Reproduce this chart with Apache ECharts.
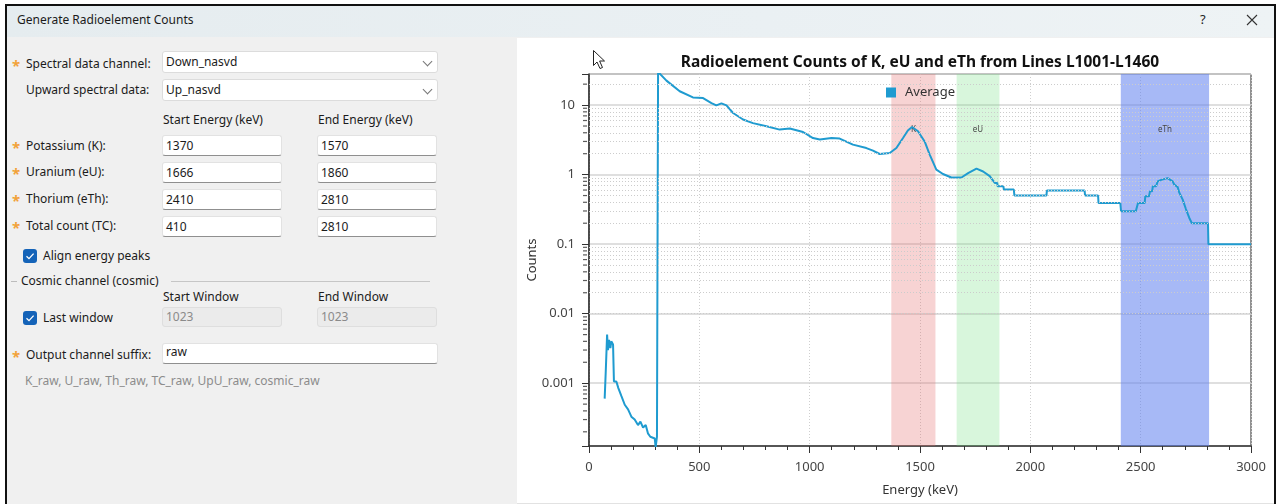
<!DOCTYPE html>
<html><head><meta charset="utf-8">
<script src="https://cdn.jsdelivr.net/npm/echarts@6/dist/echarts.min.js"></script>
<style>
html,body{margin:0;padding:0;width:1277px;height:504px;overflow:hidden;background:#fff;font-family:"Noto Sans",sans-serif;font-size:12px;color:#1b1b1b;}
.a{position:absolute;}
.t{position:absolute;line-height:16px;white-space:nowrap;}
.star{position:absolute;color:#f2a23a;font-size:15px;font-weight:bold;line-height:16px;}
.box{position:absolute;box-sizing:border-box;background:#fff;border:1px solid #e2e2e2;border-bottom:1px solid #8f8f8f;border-radius:3px;padding-left:3px;line-height:19px;}
.combo{position:absolute;box-sizing:border-box;background:#fff;border:1px solid #dcdcdc;border-radius:3px;padding-left:3px;line-height:19px;}
.dis{position:absolute;box-sizing:border-box;background:#ebebeb;border:1px solid #dedede;border-radius:3px;padding-left:3px;line-height:18px;color:#8a8a8a;}
.chev{position:absolute;right:6px;top:6px;width:6px;height:6px;border-right:1.2px solid #777;border-bottom:1.2px solid #777;transform:rotate(45deg);}
.cb{position:absolute;width:14px;height:14px;border-radius:3px;background:#1463b8;}
.cb svg{position:absolute;left:0;top:0;}
</style></head>
<body>
<div class="a" style="left:5px;top:4px;width:1267px;height:502px;border-top:2px solid #111;border-left:2px solid #111;border-right:2px solid #111;background:#f0f0f0;"></div>
<div class="a" style="left:7px;top:6px;width:1267px;height:31px;background:linear-gradient(90deg,#e5ecef,#eaf0f3 60%,#eef3f5);"></div>
<div class="t" style="left:17px;top:12px;">Generate Radioelement Counts</div>
<div class="t" style="left:1200px;top:11px;font-size:13px;color:#222;">?</div>
<svg class="a" style="left:1246px;top:14px;" width="12" height="12"><path d="M1 1 L11 11 M11 1 L1 11" stroke="#333" stroke-width="1.1"/></svg>
<div class="a" style="left:517px;top:38px;width:757px;height:465px;background:#fff;border-bottom:1px solid #e2e2e2;"></div>

<!-- form -->
<div class="star" style="left:12px;top:57px;">*</div>
<div class="t" style="left:26px;top:56px;">Spectral data channel:</div>
<div class="combo" style="left:162px;top:51px;width:276px;height:22px;">Down_nasvd<div class="chev"></div></div>
<div class="t" style="left:26px;top:82px;">Upward spectral data:</div>
<div class="combo" style="left:162px;top:79px;width:276px;height:22px;">Up_nasvd<div class="chev"></div></div>
<div class="t" style="left:163px;top:112px;">Start Energy (keV)</div>
<div class="t" style="left:318px;top:112px;">End Energy (keV)</div>

<div class="star" style="left:12px;top:139px;">*</div>
<div class="t" style="left:26px;top:138px;">Potassium (K):</div>
<div class="box" style="left:162px;top:135px;width:120px;height:21px;">1370</div>
<div class="box" style="left:317px;top:135px;width:120px;height:21px;">1570</div>

<div class="star" style="left:12px;top:165px;">*</div>
<div class="t" style="left:26px;top:164px;">Uranium (eU):</div>
<div class="box" style="left:162px;top:162px;width:120px;height:21px;">1666</div>
<div class="box" style="left:317px;top:162px;width:120px;height:21px;">1860</div>

<div class="star" style="left:12px;top:192px;">*</div>
<div class="t" style="left:26px;top:191px;">Thorium (eTh):</div>
<div class="box" style="left:162px;top:189px;width:120px;height:21px;">2410</div>
<div class="box" style="left:317px;top:189px;width:120px;height:21px;">2810</div>

<div class="star" style="left:12px;top:219px;">*</div>
<div class="t" style="left:26px;top:218px;">Total count (TC):</div>
<div class="box" style="left:162px;top:216px;width:120px;height:21px;">410</div>
<div class="box" style="left:317px;top:216px;width:120px;height:21px;">2810</div>

<div class="cb" style="left:23px;top:249px;"><svg width="14" height="14"><path d="M3.5 7.2 L6 9.6 L10.6 4.6" fill="none" stroke="#fff" stroke-width="1.3"/></svg></div>
<div class="t" style="left:43px;top:248px;">Align energy peaks</div>

<div class="a" style="left:11px;top:281px;width:6px;height:1px;background:#bcbcbc;"></div>
<div class="t" style="left:21px;top:273px;">Cosmic channel (cosmic)</div>
<div class="a" style="left:171px;top:281px;width:259px;height:1px;background:#c6c6c6;"></div>
<div class="t" style="left:163px;top:289px;">Start Window</div>
<div class="t" style="left:318px;top:289px;">End Window</div>
<div class="cb" style="left:23px;top:311px;"><svg width="14" height="14"><path d="M3.5 7.2 L6 9.6 L10.6 4.6" fill="none" stroke="#fff" stroke-width="1.3"/></svg></div>
<div class="t" style="left:43px;top:310px;">Last window</div>
<div class="dis" style="left:162px;top:307px;width:120px;height:20px;">1023</div>
<div class="dis" style="left:317px;top:307px;width:120px;height:20px;">1023</div>

<div class="star" style="left:12px;top:348px;">*</div>
<div class="t" style="left:26px;top:347px;">Output channel suffix:</div>
<div class="box" style="left:162px;top:343px;width:276px;height:21px;line-height:16px;">raw</div>
<div class="t" style="left:25px;top:373px;color:#8c8c8c;">K_raw, U_raw, Th_raw, TC_raw, UpU_raw, cosmic_raw</div>

<div id="chart" class="a" style="left:517px;top:38px;width:757px;height:465px;"></div>
<svg class="a" style="left:592px;top:49px;z-index:5;" width="16" height="22"><path d="M1.5 1.5 L1.5 16.5 L5 13 L8 19.5 L10.5 18.5 L7.6 12 L12.5 12 Z" fill="#fff" stroke="#222" stroke-width="1" stroke-linejoin="round"/></svg>

<script>
// ---- data ----
const energies = [71,76,82,86,91,97,101,109,113,124,133,147,162,177,192,207,222,233,245,257,267,278,287,298,302,308,311,
  313,351,411,471,517,555,577,600,623,653,698,743,804,864,910,970,1015,1046,1099,1136,1196,1257,1287,1317,1363,1393,1423,1445,1464,
  1491,1521,1544,1574,1604,1642,1688,1718,1756,1786,1816,1839,1850,1852,1878,1880,1925,1928,2073,2075,2246,2248,2307,2309,2408,
  2411,2478,2488,2518,2521,2538,2542,2552,2555,2570,2577,2593,2600,2622,2630,2645,2652,2668,2675,2683,2690,2698,2705,2713,2720,2732,
  2805,2807,3000];
const counts = [6.0e-4,1.5e-3,5.0e-3,3.0e-3,4.2e-3,3.2e-3,4.0e-3,3.6e-3,1.06e-3,1.06e-3,8.5e-4,6.5e-4,4.9e-4,4.2e-4,3.3e-4,3.0e-4,2.5e-4,2.8e-4,2.3e-4,2.5e-4,1.9e-4,1.7e-4,1.8e-4,1.6e-4,1.2e-4,1.7e-4,1.7e-4,
  30,22.5,15.8,12.9,12.6,10.7,9.9,10.6,9.9,7.7,6.2,5.5,4.95,4.44,4.6,4.1,3.36,3.19,3.36,3.3,2.7,2.41,2.21,1.98,2.05,2.41,3.36,4.3,4.85,
  4.2,3.0,1.94,1.18,1.02,0.91,0.91,1.05,1.22,1.11,0.95,0.76,0.76,0.68,0.68,0.61,0.61,0.5,0.5,0.59,0.59,0.5,0.5,0.39,0.39,
  0.297,0.297,0.39,0.39,0.487,0.487,0.575,0.575,0.68,0.68,0.80,0.84,0.89,0.89,0.84,0.80,0.72,0.66,0.55,0.52,0.44,0.42,0.32,0.30,0.24,0.20,
  0.20,0.10,0.10];
const bandNames = ['K','eU','eTh'];
const bandStart = [1370,1666,2410];
const bandEnd = [1570,1860,2810];
const minorTickValues = [2e-4,3e-4,4e-4,5e-4,6e-4,7e-4,8e-4,9e-4,
  2e-3,3e-3,4e-3,5e-3,6e-3,7e-3,8e-3,9e-3,
  0.02,0.03,0.04,0.05,0.06,0.07,0.08,0.09,
  0.2,0.3,0.4,0.5,0.6,0.7,0.8,0.9,
  2,3,4,5,6,7,8,9,20];
const seriesName = 'Average';
const titleText = 'Radioelement Counts of K, eU and eTh from Lines L1001-L1460';

// ---- styles ----
const bandColors = ['rgba(228,110,110,0.3)','rgba(110,222,125,0.27)','rgba(95,128,238,0.55)'];
const lineColor = '#1f9bd0';

const chart = echarts.init(document.getElementById('chart'), null, {renderer:'canvas'});
const font = '"Noto Sans", sans-serif';
chart.setOption({
  animation:false,
  textStyle:{fontFamily:font},
  title:{text:titleText, left:403, top:17, padding:0, textAlign:'center',
    textStyle:{fontSize:15.5, fontWeight:'bold', color:'#111', fontFamily:font}},
  legend:{data:[{name:seriesName, icon:'rect'}], left:369, top:48, padding:0, itemWidth:10, itemHeight:10, itemGap:5,
    textStyle:{fontSize:13, color:'#333', padding:[0,0,0,4]}},
  grid:{left:72, top:36, width:662, height:372, show:true, borderColor:'#222', borderWidth:1, backgroundColor:'transparent',
    containLabel:false, outerBoundsMode:'none'},
  xAxis:{type:'value', min:0, max:3000, interval:500,
    name:'Energy (keV)', nameLocation:'middle', nameGap:38, nameMoveOverlap:false, nameTextStyle:{fontSize:13, color:'#333'},
    axisLine:{show:true, lineStyle:{color:'#333', width:1.5}},
    axisTick:{show:true, length:7, lineStyle:{color:'#333'}},
    minorTick:{show:true, splitNumber:5, length:4, lineStyle:{color:'#333'}},
    axisLabel:{fontSize:13, color:'#444', margin:15, formatter:function(v){return String(v);}},
    splitLine:{show:true, lineStyle:{color:'#cfcfcf', type:[1,2], width:1}}},
  yAxis:{type:'log', logBase:10, min:1.25e-4, max:28,
    name:'Counts', nameLocation:'middle', nameGap:50, nameMoveOverlap:false, nameTextStyle:{fontSize:13, color:'#333'},
    axisLine:{show:true, lineStyle:{color:'#333', width:1.5}},
    axisTick:{show:true, length:7, lineStyle:{color:'#333'}},
    axisLabel:{fontSize:13, color:'#444', margin:14, formatter:function(v){
      const l = Math.log10(v); const r = Math.round(l);
      return Math.abs(l-r) < 1e-6 ? String(Number(Math.pow(10,r).toPrecision(1))) : '';
    }},
    splitLine:{show:true, lineStyle:{color:'#d4d4d4', width:1.5}}},
  series:[
    {name:'minor', type:'scatter', silent:true, clip:false, z:1,
     data:minorTickValues.map(v=>[0,v]), symbol:'rect', symbolSize:[4,1.2], symbolOffset:[-4,0],
     itemStyle:{color:'#333'},
     markLine:{silent:true, symbol:['none','none'], label:{show:false}, animation:false,
       lineStyle:{color:'#cccccc', type:[1,2], width:1},
       data:minorTickValues.map(v=>({yAxis:v}))},
     markArea:{silent:true,
       label:{show:true, position:'insideTop', distance:52, fontSize:8, color:'#444'},
       data:bandNames.map((n,i)=>[{name:n, xAxis:bandStart[i], itemStyle:{color:bandColors[i]}},{xAxis:bandEnd[i]}])}
    },
    {name:seriesName, type:'line', z:3, clip:true, showSymbol:false, symbol:'none',
     data:energies.map((e,i)=>[e,counts[i]]),
     itemStyle:{color:lineColor}, lineStyle:{color:lineColor, width:2}}
  ]
});
</script>
</body></html>
